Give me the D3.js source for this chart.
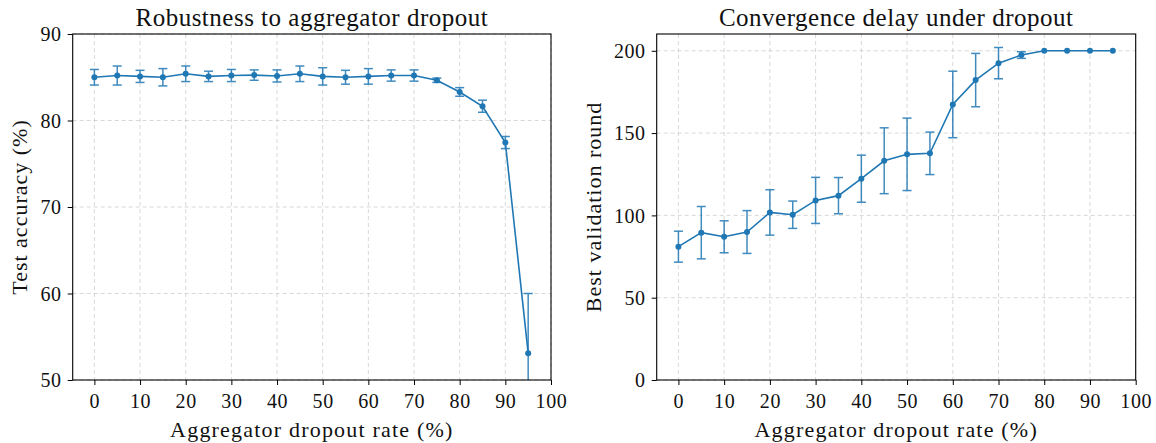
<!DOCTYPE html>
<html>
<head>
<meta charset="utf-8">
<script src="https://cdn.jsdelivr.net/npm/d3@7"></script>
<style>
  body { margin: 0; background: #fff; }
  svg { display: block; }
  svg text { font-family: "Liberation Serif", "DejaVu Serif", serif; }
</style>
</head>
<body>
<div id="chart"></div>
<script>
// dropout rates (%)
const rates = [0, 5, 10, 15, 20, 25, 30, 35, 40, 45, 50, 55, 60, 65, 70, 75, 80, 85, 90, 95];

// left panel: test accuracy mean and std
const accMean = [85.0, 85.2, 85.1, 85.0, 85.4, 85.1, 85.2, 85.25, 85.15, 85.4, 85.1, 85.0, 85.1, 85.2, 85.2, 84.65, 83.3, 81.65, 77.45, 53.1];
const accErr  = [0.9, 1.1, 0.7, 1.0, 0.9, 0.6, 0.7, 0.6, 0.7, 0.9, 1.0, 0.8, 0.9, 0.65, 0.65, 0.25, 0.5, 0.7, 0.7, 6.9];

// right panel: best validation round mean and std
const roundMean = [81.0, 89.5, 87.0, 89.9, 101.8, 100.4, 109.1, 112.0, 122.3, 133.2, 137.1, 137.7, 167.4, 182.2, 192.5, 197.4, 200, 200, 200, 200];
const roundErr  = [9.4, 15.9, 9.7, 13.0, 13.8, 8.3, 14.0, 11.0, 14.3, 20.0, 22.0, 12.9, 20.2, 16.2, 9.5, 2.0, 0, 0, 0, 0];

const xTicks = [0, 10, 20, 30, 40, 50, 60, 70, 80, 90, 100];
const accTicks = [50, 60, 70, 80, 90];
const roundTicks = [0, 50, 100, 150, 200];

const W = 1156, H = 443;
const blue = "#1f77b4";

const svg = d3.select("#chart").append("svg")
  .attr("width", W)
  .attr("height", H);

function panel(opts) {
  const { left, right, top, bottom, mean, err, yDomain, yTicks, title, yLabel, yLabelX, id } = opts;
  const x = d3.scaleLinear().domain([-4.75, 100]).range([left, right]);
  const y = d3.scaleLinear().domain(yDomain).range([bottom, top]);

  const g = svg.append("g");

  // grid
  g.append("g").selectAll("line.gx")
    .data(xTicks).enter().append("line")
      .attr("x1", d => x(d)).attr("x2", d => x(d))
      .attr("y1", top).attr("y2", bottom)
      .attr("stroke", "#b0b0b0").attr("stroke-opacity", 0.55)
      .attr("stroke-width", 0.9).attr("stroke-dasharray", "4,3");
  g.append("g").selectAll("line.gy")
    .data(yTicks).enter().append("line")
      .attr("x1", left).attr("x2", right)
      .attr("y1", d => y(d)).attr("y2", d => y(d))
      .attr("stroke", "#b0b0b0").attr("stroke-opacity", 0.55)
      .attr("stroke-width", 0.9).attr("stroke-dasharray", "4,3");

  // clip
  svg.append("clipPath").attr("id", id)
    .append("rect").attr("x", left).attr("y", top)
    .attr("width", right - left).attr("height", bottom - top);

  const data = rates.map((r, i) => ({ r, m: mean[i], e: err[i] }));
  const dg = g.append("g").attr("clip-path", `url(#${id})`);

  // error bars
  const eb = dg.append("g").attr("stroke", blue).attr("stroke-width", 1.5).attr("opacity", 0.85);
  data.filter(d => d.e > 0).forEach(d => {
    const cx = x(d.r);
    eb.append("line").attr("x1", cx).attr("x2", cx)
      .attr("y1", y(d.m - d.e)).attr("y2", y(d.m + d.e));
    [d.m - d.e, d.m + d.e].forEach(v => {
      eb.append("line").attr("x1", cx - 4.5).attr("x2", cx + 4.5)
        .attr("y1", y(v)).attr("y2", y(v));
    });
  });

  // line
  dg.append("path")
    .datum(data)
    .attr("fill", "none")
    .attr("stroke", blue)
    .attr("stroke-width", 1.6)
    .attr("d", d3.line().x(d => x(d.r)).y(d => y(d.m)));

  dg.selectAll("circle").data(data).enter().append("circle")
    .attr("cx", d => x(d.r)).attr("cy", d => y(d.m))
    .attr("r", 3).attr("fill", blue);

  // axes
  const xAxis = g.append("g")
    .attr("transform", `translate(0,${bottom})`)
    .call(d3.axisBottom(x).tickValues(xTicks).tickSize(5).tickPadding(5).tickFormat(d3.format("d")));
  const yAxis = g.append("g")
    .attr("transform", `translate(${left},0)`)
    .call(d3.axisLeft(y).tickValues(yTicks).tickSize(5).tickPadding(6).tickFormat(d3.format("d")));
  [xAxis, yAxis].forEach(a => {
    a.attr("font-family", null).attr("font-size", null);
    a.select(".domain").remove();
    a.selectAll("line").attr("stroke", "#000").attr("stroke-width", 1);
    a.selectAll("text").attr("font-size", 20).attr("fill", "#111")
      .style("letter-spacing", "0.6px");
  });
  xAxis.selectAll("text").attr("dy", "0.9em");
  yAxis.selectAll("text").attr("dy", "0.34em");

  // frame
  g.append("rect")
    .attr("x", left).attr("y", top)
    .attr("width", right - left).attr("height", bottom - top)
    .attr("fill", "none").attr("stroke", "#000").attr("stroke-width", 1.1);

  // title
  g.append("text")
    .attr("x", (left + right) / 2).attr("y", 26)
    .attr("text-anchor", "middle").attr("font-size", 25).attr("fill", "#111")
    .style("letter-spacing", "0.5px")
    .text(title);

  // x label
  g.append("text")
    .attr("x", (left + right) / 2).attr("y", 437)
    .attr("text-anchor", "middle").attr("font-size", 22).attr("fill", "#111")
    .style("letter-spacing", "1.2px")
    .text("Aggregator dropout rate (%)");

  // y label
  g.append("text")
    .attr("transform", `translate(${yLabelX},${(top + bottom) / 2}) rotate(-90)`)
    .attr("text-anchor", "middle").attr("font-size", 22).attr("fill", "#111")
    .style("letter-spacing", "1px")
    .text(yLabel);
}

panel({
  id: "clipL", left: 72.7, right: 551, top: 34, bottom: 380,
  mean: accMean, err: accErr, yDomain: [50, 90], yTicks: accTicks,
  title: "Robustness to aggregator dropout", yLabel: "Test accuracy (%)", yLabelX: 27
});
panel({
  id: "clipR", left: 656.7, right: 1135.7, top: 34, bottom: 380,
  mean: roundMean, err: roundErr, yDomain: [0, 210.2], yTicks: roundTicks,
  title: "Convergence delay under dropout", yLabel: "Best validation round", yLabelX: 601
});
</script>
</body>
</html>
